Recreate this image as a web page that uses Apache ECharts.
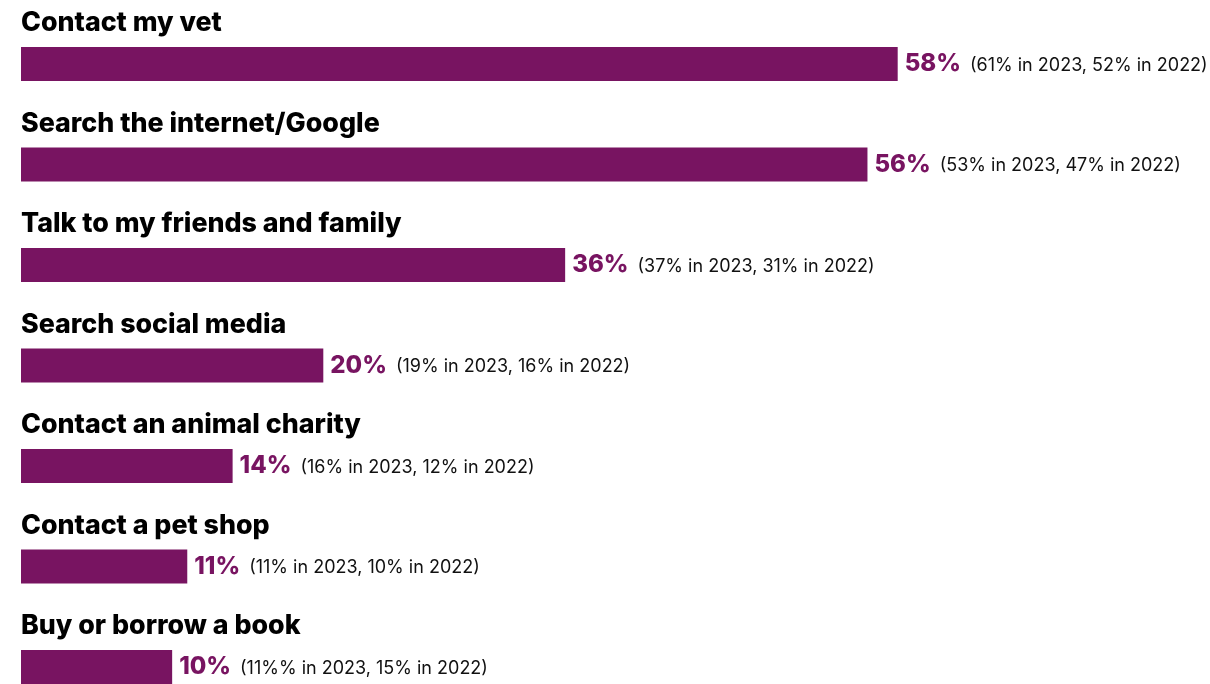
<!DOCTYPE html>
<html>
<head>
<meta charset="utf-8">
<script src="https://cdn.jsdelivr.net/npm/echarts@6/dist/echarts.min.js"></script>
<style>
  html, body { margin: 0; padding: 0; background: #ffffff; }
  #chart { width: 1210px; height: 684px; }
</style>
</head>
<body>
<div id="chart"></div>
<script>
// Where owners go for pet advice, share of respondents
const categories = [
  'Contact my vet',
  'Search the internet/Google',
  'Talk to my friends and family',
  'Search social media',
  'Contact an animal charity',
  'Contact a pet shop',
  'Buy or borrow a book'
];
const values2024 = [58, 56, 36, 20, 14, 11, 10];
const comparisonNotes = [
  '(61% in 2023, 52% in 2022)',
  '(53% in 2023, 47% in 2022)',
  '(37% in 2023, 31% in 2022)',
  '(19% in 2023, 16% in 2022)',
  '(16% in 2023, 12% in 2022)',
  '(11% in 2023, 10% in 2022)',
  '(11%% in 2023, 15% in 2022)'
];

const PURPLE = '#781461';
const FONT = 'Inter, "Liberation Sans", sans-serif';

const chart = echarts.init(document.getElementById('chart'), null, { renderer: 'canvas' });

chart.setOption({
  animation: false,
  backgroundColor: '#ffffff',
  // category points sit on the grid edges, so first/last bar centres mark top/bottom
  grid: { left: 21, top: 64, width: 1179, height: 603, containLabel: false },
  xAxis: {
    type: 'value', min: 0, max: 78,
    show: false
  },
  yAxis: {
    type: 'category', data: categories, inverse: true,
    boundaryGap: false,
    show: false
  },
  series: [
    {
      type: 'bar',
      data: values2024,
      barWidth: 34,
      itemStyle: { color: PURPLE },
      label: {
        show: true,
        position: 'right',
        distance: 7,
        formatter: p => '{v|' + p.value + '%}{n|' + comparisonNotes[p.dataIndex] + '}',
        rich: {
          v: { fontFamily: FONT, fontWeight: 800, fontSize: 24, color: PURPLE, padding: [0, 9, 0, 0] },
          n: { fontFamily: FONT, fontWeight: 400, fontSize: 18, color: '#111111', padding: [3, 0, 0, 0] }
        }
      },
      z: 2
    },
    {
      // transparent overlay carrying each category title above its bar
      type: 'bar',
      data: values2024,
      barWidth: 34,
      barGap: '-100%',
      silent: true,
      itemStyle: { color: 'rgba(0,0,0,0)' },
      label: {
        show: true,
        position: [0, -24],
        align: 'left',
        verticalAlign: 'middle',
        formatter: p => categories[p.dataIndex],
        fontFamily: FONT,
        fontWeight: 800,
        fontSize: 26.8,
        color: '#000000'
      },
      z: 3
    }
  ]
});
</script>
</body>
</html>
